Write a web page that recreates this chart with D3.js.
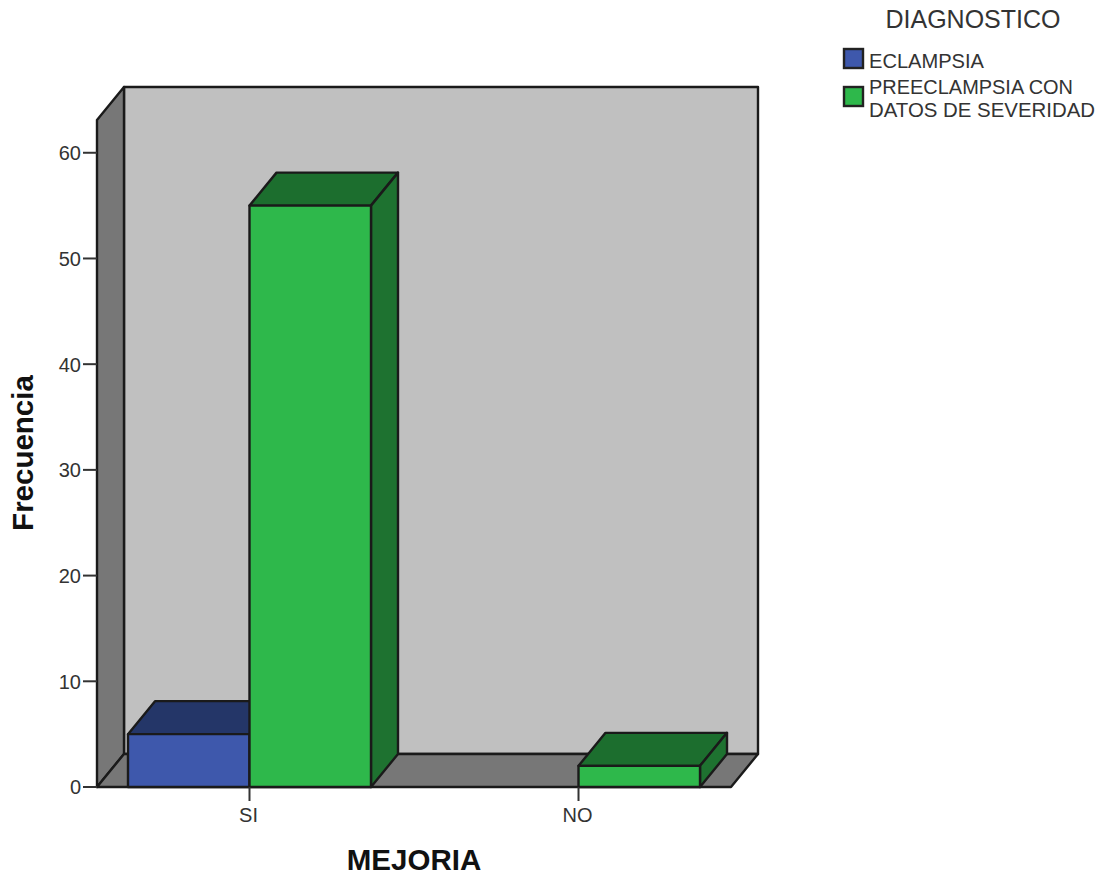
<!DOCTYPE html>
<html>
<head>
<meta charset="utf-8">
<script src="https://cdn.jsdelivr.net/npm/d3@7/dist/d3.min.js"></script>
<style>
  html, body { margin: 0; padding: 0; background: #fff; }
  svg { display: block; }
  text { font-family: "Liberation Sans", Arial, sans-serif; }
</style>
</head>
<body>
<svg id="chart" width="1103" height="879"></svg>
<script>
// Frequency of improvement by diagnosis
const categories = ["SI", "NO"];
const seriesNames = ["ECLAMPSIA", "PREECLAMPSIA CON DATOS DE SEVERIDAD"];
const eclampsia = [5, 0];
const preeclampsia = [55, 2];
const yTicks = [0, 10, 20, 30, 40, 50, 60];
const yMax = 63.1;

const frontColors = ["#3e58ac", "#2eb84b"];
const topColors = ["#243668", "#1c6e2e"];
const sideColors = ["#2c4484", "#1e7230"];
const stroke = "#1a1a1a";

const depthX = 27, depthY = -33;
const x0 = 97, x1 = 731, y0 = 787;

const x = d3.scalePoint().domain(categories).range([x0, x1]).padding(0.4635);
const y = d3.scaleLinear().domain([0, yMax]).range([y0, y0 - 667]);
const barWidth = 121.5;
const offset = d3.scaleOrdinal().domain(seriesNames).range([-barWidth, 0]);

const svg = d3.select("#chart");
const poly = (pts, fill) => svg.append("polygon")
  .attr("points", pts.map(p => p.join(",")).join(" "))
  .attr("fill", fill)
  .attr("stroke", stroke)
  .attr("stroke-width", 2.4)
  .attr("stroke-linejoin", "round");

const boxTop = y(yMax);

// Chart box: back wall, left wall, floor
poly([[x0 + depthX, boxTop + depthY], [x1 + depthX, boxTop + depthY], [x1 + depthX, y0 + depthY], [x0 + depthX, y0 + depthY]], "#c0c0c0");
poly([[x0, boxTop], [x0 + depthX, boxTop + depthY], [x0 + depthX, y0 + depthY], [x0, y0]], "#777777");
poly([[x0, y0], [x0 + depthX, y0 + depthY], [x1 + depthX, y0 + depthY], [x1, y0]], "#777777");

// Bars, back to front within each category
const rows = [eclampsia, preeclampsia].flatMap((values, s) =>
  values.map((v, c) => ({ s, c, v })));

rows.filter(d => d.v > 0).forEach(d => {
  const left = x(categories[d.c]) + offset(seriesNames[d.s]);
  const right = left + barWidth;
  const yt = y(d.v);
  poly([[left, yt], [left + depthX, yt + depthY], [right + depthX, yt + depthY], [right, yt]], topColors[d.s]);
  poly([[right, yt], [right + depthX, yt + depthY], [right + depthX, y0 + depthY], [right, y0]], sideColors[d.s]);
  poly([[left, yt], [right, yt], [right, y0], [left, y0]], frontColors[d.s]);
});

// Axes
const yAxis = svg.append("g").attr("transform", `translate(${x0},0)`)
  .call(d3.axisLeft(y).tickValues(yTicks).tickSize(14).tickPadding(2).offset(0));
const xAxis = svg.append("g").attr("transform", `translate(0,${y0})`)
  .call(d3.axisBottom(x).tickSize(14).tickPadding(7).offset(0));
[yAxis, xAxis].forEach(g => {
  g.select(".domain").remove();
  g.selectAll("line").attr("stroke", "#333").attr("stroke-width", 2);
  g.selectAll("text").attr("font-size", 20).attr("fill", "#333")
    .style("font-family", '"Liberation Sans", Arial, sans-serif');
});
xAxis.selectAll("text").attr("dx", -1);
yAxis.selectAll("text").attr("dy", "0.37em");

// Axis titles
svg.append("text").attr("x", 414).attr("y", 870).attr("text-anchor", "middle")
  .attr("font-size", 29.5).attr("font-weight", "bold").attr("fill", "#111").text("MEJORIA");
svg.append("text").attr("transform", "translate(33,453) rotate(-90)").attr("text-anchor", "middle")
  .attr("font-size", 29.5).attr("font-weight", "bold").attr("fill", "#111").text("Frecuencia");

// Legend
svg.append("text").attr("x", 973).attr("y", 28).attr("text-anchor", "middle")
  .attr("font-size", 25).attr("fill", "#333").text("DIAGNOSTICO");
const legendY = [49, 87];
const legendLines = [["ECLAMPSIA"], ["PREECLAMPSIA CON", "DATOS DE SEVERIDAD"]];
const legendWidths = [[115], [204, 226]];
const legendTextY = [[68], [94, 117]];
seriesNames.forEach((name, i) => {
  svg.append("rect").attr("x", 844).attr("y", legendY[i]).attr("width", 19).attr("height", 19)
    .attr("fill", frontColors[i]).attr("stroke", "#222").attr("stroke-width", 2.4);
  legendLines[i].forEach((line, j) => {
    svg.append("text").attr("x", 869).attr("y", legendTextY[i][j])
      .attr("font-size", 20.4).attr("fill", "#333")
      .attr("textLength", legendWidths[i][j]).attr("lengthAdjust", "spacingAndGlyphs").text(line);
  });
});
</script>
</body>
</html>
